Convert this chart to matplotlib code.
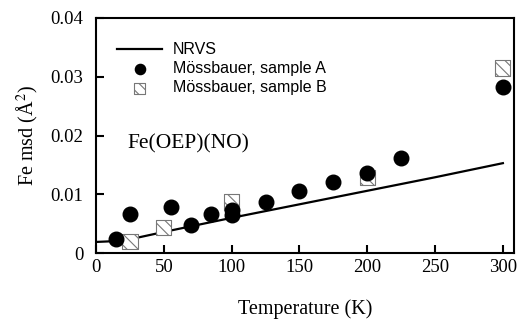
import numpy as np
import matplotlib.pyplot as plt

# NRVS curve
nrvs_t = [0, 10, 20, 30, 40, 50, 75, 100, 150, 200, 250, 300]
nrvs_msd = [0.0019, 0.0020, 0.0022, 0.0026, 0.0031, 0.0036, 0.0048, 0.0060,
            0.0083, 0.0106, 0.0129, 0.0153]

# Mossbauer sample A
a_t = [15, 25, 55, 70, 85, 100, 100, 125, 150, 175, 200, 225, 300]
a_msd = [0.0024, 0.0066, 0.0078, 0.0048, 0.0066, 0.0073, 0.0065, 0.0087,
         0.0106, 0.0121, 0.0136, 0.0161, 0.0283]

# Mossbauer sample B
b_t = [25, 50, 100, 200, 300]
b_msd = [0.0020, 0.0044, 0.0087, 0.0128, 0.0315]

plt.rcParams['hatch.linewidth'] = 0.8
plt.rcParams['hatch.color'] = '#555555'
plt.rcParams['mathtext.fontset'] = 'stix'

fig = plt.figure(figsize=(5.17, 3.2), dpi=100)
ax = fig.add_axes([0.1857, 0.209, 0.808, 0.735])

ax.plot(nrvs_t, nrvs_msd, color='black', lw=1.6, label='NRVS', zorder=2)
ax.scatter(a_t, a_msd, s=110, color='black', marker='o', zorder=3,
           label='M\u00f6ssbauer, sample A')
ax.scatter(b_t, b_msd, s=120, marker='s', facecolor='white', edgecolor='#777777',
           linewidth=0.8, hatch='\\\\\\', zorder=2.5, label='M\u00f6ssbauer, sample B')

ax.set_xlim(0, 308)
ax.set_ylim(0, 0.04)
ax.set_xticks([0, 50, 100, 150, 200, 250, 300])
ax.set_yticks([0, 0.01, 0.02, 0.03, 0.04])
ax.set_yticklabels(['0', '0.01', '0.02', '0.03', '0.04'])

serif = ['Liberation Serif', 'DejaVu Serif']
for lab in ax.get_xticklabels() + ax.get_yticklabels():
    lab.set_family(serif)
    lab.set_fontsize(13.5)
ax.tick_params(direction='in', length=6, width=1.5, top=False, right=False)
ax.tick_params(axis='y', pad=9)
ax.tick_params(axis='x', pad=4)
for s in ax.spines.values():
    s.set_linewidth(1.5)

ax.set_xlabel('Temperature (K)', family=serif, fontsize=14.5, labelpad=17)
ax.set_ylabel('Fe msd (\u00c5$^2$)', family=serif, fontsize=14.5, labelpad=8)

ax.text(0.075, 0.445, 'Fe(OEP)(NO)', transform=ax.transAxes, family=serif,
        fontsize=15.5)

leg = ax.legend(loc='upper left', bbox_to_anchor=(0.02, 0.95), frameon=False,
                prop={'family': 'Liberation Sans', 'size': 11.5},
                handlelength=2.8, markerscale=0.7, labelspacing=0.25,
                handletextpad=0.7, borderpad=0.3)

fig.savefig('out.png', dpi=100)
